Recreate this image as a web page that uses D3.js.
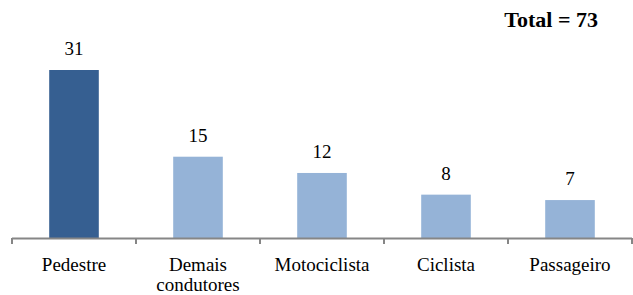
<!DOCTYPE html>
<html>
<head>
<meta charset="utf-8">
<script src="https://cdn.jsdelivr.net/npm/d3@7"></script>
<style>
  body { margin: 0; background: #fff; }
</style>
</head>
<body>
<div id="chart"></div>
<script>
var categories = ['Pedestre', 'Demais condutores', 'Motociclista', 'Ciclista', 'Passageiro'];
var values = [31, 15, 12, 8, 7];
var totalLabel = 'Total = 73';

var width = 633;
var height = 295;
var serif = '"Liberation Serif", "Times New Roman", serif';

var x = d3.scaleBand()
    .domain(categories)
    .range([12, 632])
    .paddingInner(0.6)
    .paddingOuter(0.3);

var y = d3.scaleLinear()
    .domain([0, 31])
    .range([238, 70]);

var svg = d3.select('#chart')
    .append('svg')
    .attr('width', width)
    .attr('height', height);

// bars
svg.selectAll('rect.bar')
    .data(values)
    .enter()
    .append('rect')
    .attr('class', 'bar')
    .attr('x', function (d, i) { return x(categories[i]); })
    .attr('y', function (d) { return y(d); })
    .attr('width', x.bandwidth())
    .attr('height', function (d) { return y(0) - y(d); })
    .attr('fill', function (d, i) { return i === 0 ? '#365F91' : '#95B3D7'; });

// value labels
svg.selectAll('text.val')
    .data(values)
    .enter()
    .append('text')
    .attr('class', 'val')
    .attr('x', function (d, i) { return x(categories[i]) + x.bandwidth() / 2; })
    .attr('y', function (d) { return y(d) - 15; })
    .attr('text-anchor', 'middle')
    .attr('font-family', serif)
    .attr('font-size', 19)
    .text(function (d) { return d; });

// axis: ticks at band edges
var edges = categories.map(function (c) { return x(c) - x.step() * x.paddingInner() / 2; });
edges.push(632);
var axis = svg.append('g');
axis.append('line')
    .attr('x1', 12).attr('x2', 632)
    .attr('y1', y(0) + 0.5).attr('y2', y(0) + 0.5)
    .attr('stroke', '#868686').attr('stroke-width', 2);
axis.selectAll('line.tick')
    .data(edges)
    .enter()
    .append('line')
    .attr('class', 'tick')
    .attr('x1', function (d) { return d; })
    .attr('x2', function (d) { return d; })
    .attr('y1', y(0))
    .attr('y2', y(0) + 6)
    .attr('stroke', '#868686').attr('stroke-width', 2);

// category labels
var catText = svg.selectAll('text.cat')
    .data(categories)
    .enter()
    .append('text')
    .attr('class', 'cat')
    .attr('text-anchor', 'middle')
    .attr('font-family', serif)
    .attr('font-size', 19)
    .attr('y', 271);
catText.each(function (c) {
    var words = c === 'Demais condutores' ? ['Demais', 'condutores'] : [c];
    var t = d3.select(this);
    words.forEach(function (w, i) {
        t.append('tspan')
            .attr('x', x(c) + x.bandwidth() / 2)
            .attr('dy', i === 0 ? 0 : 20)
            .text(w);
    });
});

svg.append('text')
    .attr('x', 598)
    .attr('y', 27)
    .attr('text-anchor', 'end')
    .attr('font-family', serif)
    .attr('font-size', 22)
    .attr('font-weight', 'bold')
    .text(totalLabel);
</script>
</body>
</html>
